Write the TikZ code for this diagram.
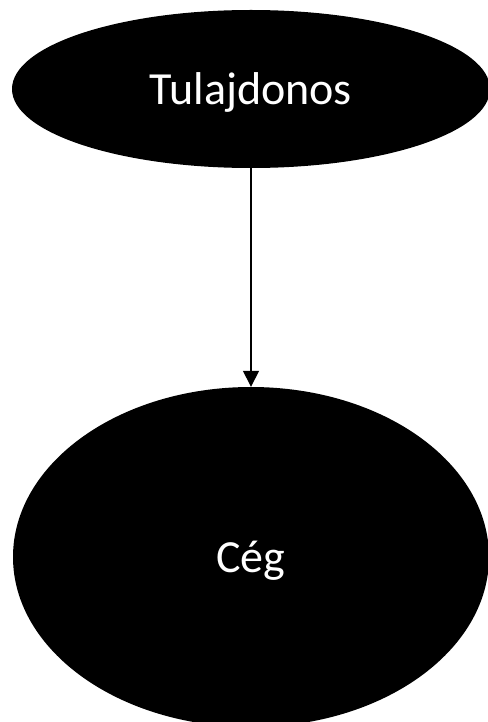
\documentclass[tikz,border=0pt]{standalone}
\usepackage{fontspec}
\setmainfont{Carlito}
\usetikzlibrary{shapes.geometric,arrows.meta}
\begin{document}
\begin{tikzpicture}[x=1pt,y=1pt,
  blob/.style={ellipse,fill=black,draw=none,text=white,inner sep=0pt,
    font=\fontsize{46}{55}\selectfont,text height=31pt,text depth=0pt},
  link/.style={line width=1.5pt,-{Triangle[length=16pt,width=16pt]}}]
\useasboundingbox (0,0) rectangle (487,-722);
\node[blob,minimum width=478pt,minimum height=158pt] (owner) at (251,-89) {Tulajdonos};
\node[blob,minimum width=476pt,minimum height=340pt] (firm) at (251,-557) {Cég};
\draw[link] (owner.south) -- (firm.north);
\end{tikzpicture}
\end{document}
